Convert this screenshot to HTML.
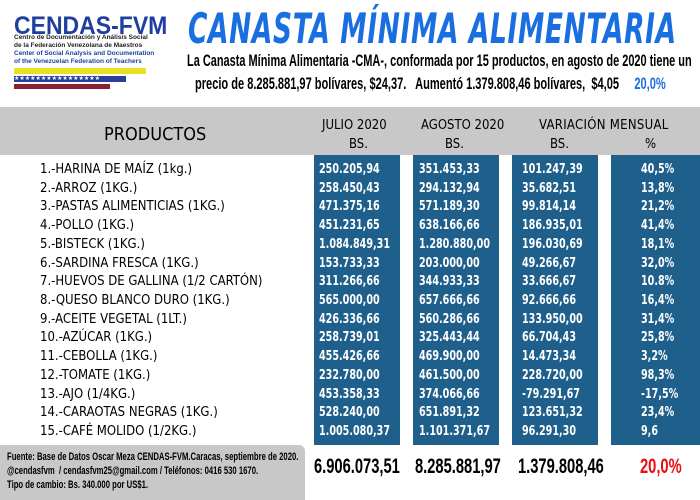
<!DOCTYPE html>
<html><head><meta charset="utf-8"><style>
body{margin:0;width:700px;height:500px;overflow:hidden;background:#fff;position:relative;font-family:"Liberation Sans",sans-serif}
.a{position:absolute;white-space:nowrap}
.c{font-family:"DejaVu Sans Condensed","DejaVu Sans",sans-serif}
.col{position:absolute;top:155px;height:290px;background:#1f5f8b}
.r{position:absolute;height:19px;line-height:19px;font-size:13px;white-space:nowrap}
.w{color:#fff;font-weight:bold;font-family:"DejaVu Sans Condensed","DejaVu Sans",sans-serif;font-size:13px;transform:scaleX(.82);transform-origin:left}
</style></head><body>
<div class="a" style="left:14px;top:12px;font:900 25px 'Liberation Sans',sans-serif;color:#1f3fa0;transform:scaleX(.92);transform-origin:left">CENDAS-FVM</div>
<div class="a" style="left:14px;top:34px;font:bold 6.5px 'Liberation Sans',sans-serif;line-height:8px;color:#222">Centro de Documentación y Análisis Social<br>de la Federación Venezolana de Maestros<br><span style="color:#1f3fa0">Center of Social Analysis and Documentation<br>of the Venezuelan Federation of Teachers</span></div>
<div class="a" style="left:14px;top:68px;width:132px;height:6px;background:#e8e020"></div>
<div class="a" style="left:14px;top:76px;width:112px;height:6px;background:#2a3f9a;color:#fff;font-size:6px;line-height:6px">★★★★★★★★★★★★★★★★</div>
<div class="a" style="left:14px;top:84px;width:96px;height:5px;background:#8a2030"></div>
<div class="a" style="left:188px;top:4px;font:italic bold 42px 'DejaVu Sans',sans-serif;color:#1a6fe0;transform:scaleX(.63);transform-origin:left;letter-spacing:1px">CANASTA MÍNIMA ALIMENTARIA</div>
<div class="a" style="left:187px;top:51px;font:bold 17px 'Liberation Sans',sans-serif;transform:scaleX(.645);transform-origin:left">La Canasta Mínima Alimentaria -CMA-, conformada por 15 productos, en agosto de 2020 tiene un</div>
<div class="a" style="left:195px;top:74px;font:bold 17px 'Liberation Sans',sans-serif;transform:scaleX(.65);transform-origin:left">precio de 8.285.881,97 bolívares, $24,37.&nbsp;&nbsp; Aumentó 1.379.808,46 bolívares,&nbsp; $4,05 &nbsp;&nbsp;&nbsp;&nbsp;<span style="color:#1a6fe0">20,0%</span></div>
<div class="a" style="left:0;top:107px;width:700px;height:48px;background:#c8c8c8"></div>
<div class="a c" style="left:104px;top:124px;font-size:18px">PRODUCTOS</div>
<div class="a c" style="left:322px;top:118px;font-size:13px">JULIO 2020</div>
<div class="a c" style="left:349px;top:137px;font-size:13px">BS.</div>
<div class="a c" style="left:421px;top:118px;font-size:13px">AGOSTO 2020</div>
<div class="a c" style="left:445px;top:137px;font-size:13px">BS.</div>
<div class="a c" style="left:539px;top:118px;font-size:13px;letter-spacing:.3px">VARIACIÓN MENSUAL</div>
<div class="a c" style="left:550px;top:137px;font-size:13px">BS.</div>
<div class="a c" style="left:645px;top:137px;font-size:13px">%</div>
<div class="col" style="left:314px;width:86px"></div>
<div class="col" style="left:413px;width:86px"></div>
<div class="col" style="left:512px;width:86px"></div>
<div class="col" style="left:611px;width:89px"></div>
<div id="rows"></div>
<div class="a" style="left:0;top:445px;width:305px;height:55px;background:#c8c8c8;border-top-right-radius:6px"></div>
<div class="a" style="left:7px;top:450px;font:bold 11px 'Liberation Sans',sans-serif;line-height:14px;transform:scaleX(.7);transform-origin:left">Fuente: Base de Datos Oscar Meza CENDAS-FVM.Caracas, septiembre de 2020.<br>@cendasfvm &nbsp;/ cendasfvm25@gmail.com / Teléfonos: 0416 530 1670.<br>Tipo de cambio: Bs. 340.000 por US$1.</div>
<div class="a" style="left:314px;top:455px;font:bold 21px 'Liberation Sans',sans-serif;transform:scaleX(.7);transform-origin:left">6.906.073,51</div>
<div class="a" style="left:415px;top:455px;font:bold 21px 'Liberation Sans',sans-serif;transform:scaleX(.7);transform-origin:left">8.285.881,97</div>
<div class="a" style="left:518px;top:455px;font:bold 21px 'Liberation Sans',sans-serif;transform:scaleX(.7);transform-origin:left">1.379.808,46</div>
<div class="a" style="left:640px;top:455px;font:bold 21px 'Liberation Sans',sans-serif;color:#e81010;transform:scaleX(.7);transform-origin:left">20,0%</div>
<script>
var d=[["1.-HARINA DE MAÍZ (1kg.)","250.205,94","351.453,33","101.247,39","40,5%"],
["2.-ARROZ (1KG.)","258.450,43","294.132,94","35.682,51","13,8%"],
["3.-PASTAS ALIMENTICIAS (1KG.)","471.375,16","571.189,30","99.814,14","21,2%"],
["4.-POLLO (1KG.)","451.231,65","638.166,66","186.935,01","41,4%"],
["5.-BISTECK (1KG.)","1.084.849,31","1.280.880,00","196.030,69","18,1%"],
["6.-SARDINA FRESCA (1KG.)","153.733,33","203.000,00","49.266,67","32,0%"],
["7.-HUEVOS DE GALLINA (1/2 CARTÓN)","311.266,66","344.933,33","33.666,67","10.8%"],
["8.-QUESO BLANCO DURO (1KG.)","565.000,00","657.666,66","92.666,66","16,4%"],
["9.-ACEITE VEGETAL (1LT.)","426.336,66","560.286,66","133.950,00","31,4%"],
["10.-AZÚCAR (1KG.)","258.739,01","325.443,44","66.704,43","25,8%"],
["11.-CEBOLLA (1KG.)","455.426,66","469.900,00","14.473,34","3,2%"],
["12.-TOMATE (1KG.)","232.780,00","461.500,00","228.720,00","98,3%"],
["13.-AJO (1/4KG.)","453.358,33","374.066,66","-79.291,67","-17,5%"],
["14.-CARAOTAS NEGRAS (1KG.)","528.240,00","651.891,32","123.651,32","23,4%"],
["15.-CAFÉ MOLIDO (1/2KG.)","1.005.080,37","1.101.371,67","96.291,30","9,6"]];
var h="";d.forEach(function(r,i){var t=160+i*18.72;
h+='<div class="r c" style="left:40px;top:'+t+'px">'+r[0]+'</div>';
h+='<div class="r w" style="left:319px;top:'+t+'px">'+r[1]+'</div>';
h+='<div class="r w" style="left:419px;top:'+t+'px">'+r[2]+'</div>';
h+='<div class="r w" style="left:522px;top:'+t+'px">'+r[3]+'</div>';
h+='<div class="r w" style="left:641px;top:'+t+'px">'+r[4]+'</div>';});
document.getElementById("rows").innerHTML=h;
</script>
</body></html>
